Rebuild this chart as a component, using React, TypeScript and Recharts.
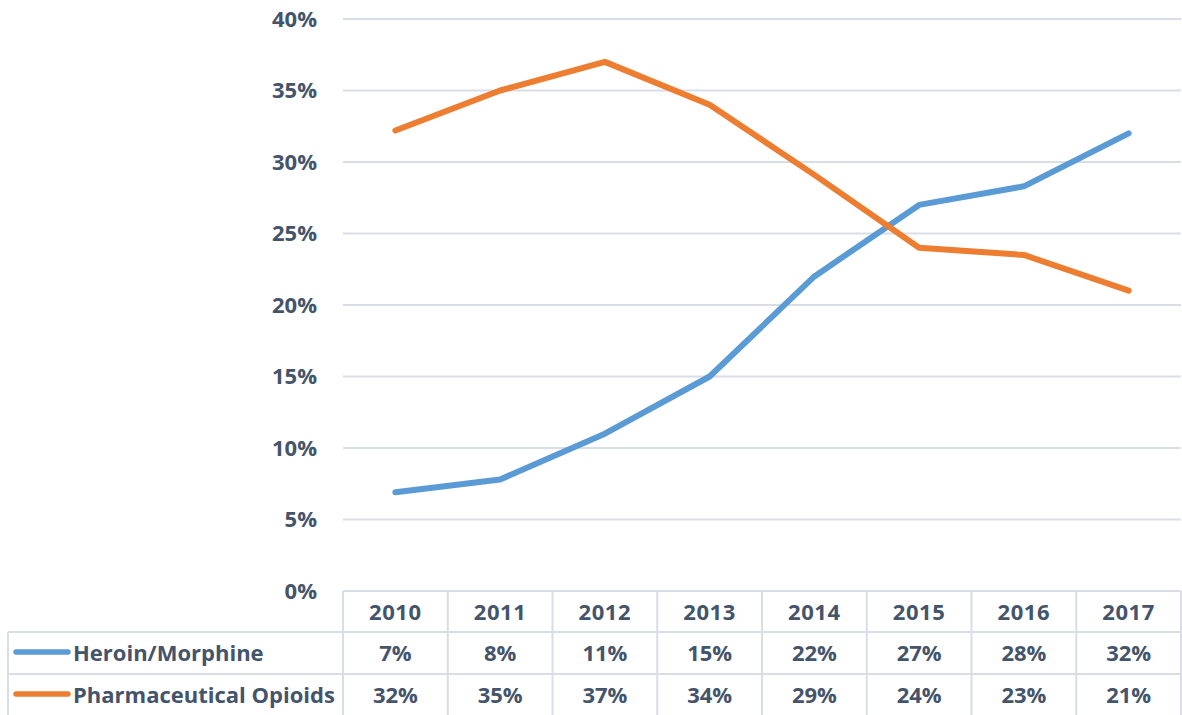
import React from 'react';
import { LineChart, Line, XAxis, YAxis, CartesianGrid } from 'recharts';

const years = ['2010', '2011', '2012', '2013', '2014', '2015', '2016', '2017'];
const heroin = [6.9, 7.8, 11.0, 15.0, 22.0, 27.0, 28.3, 32.0];
const pharma = [32.2, 35.0, 37.0, 34.0, 29.1, 24.0, 23.5, 21.0];
const heroinLabels = ['7%', '8%', '11%', '15%', '22%', '27%', '28%', '32%'];
const pharmaLabels = ['32%', '35%', '37%', '34%', '29%', '24%', '23%', '21%'];
const seriesNames = ['Heroin/Morphine', 'Pharmaceutical Opioids'];
const yTicks = [0, 5, 10, 15, 20, 25, 30, 35, 40];

const data = years.map((y, i) => ({ year: y, heroin: heroin[i], pharma: pharma[i] }));

const W = 1182;
const H = 715;
const PLOT_LEFT = 343;
const PLOT_RIGHT = 1181;
const COL_W = (PLOT_RIGHT - PLOT_LEFT) / years.length;
const BLUE = '#5B9BD5';
const ORANGE = '#ED7D31';
const TEXT = '#44546A';
const GRID = '#D9DEE6';
const FONT = '"Open Sans", sans-serif';
const FS = 22;

function TableTick(props: any) {
  const { x, y, payload, index } = props;
  const top = y;
  const half = COL_W / 2;
  const r1 = top + 20;
  const r2 = top + 61;
  const r3 = top + 103;
  const textProps = {
    fill: TEXT,
    fontFamily: FONT,
    fontWeight: 700,
    fontSize: FS,
    dominantBaseline: 'central' as const,
  };
  return (
    <g>
      <line x1={x - half} x2={x - half} y1={top} y2={H} stroke={GRID} strokeWidth={2} />
      {index === years.length - 1 && (
        <line x1={x + half} x2={x + half} y1={top} y2={H} stroke={GRID} strokeWidth={2} />
      )}
      <text x={x} y={r1} textAnchor="middle" letterSpacing={0.6} {...textProps}>{payload.value}</text>
      <text x={x} y={r2} textAnchor="middle" {...textProps}>{heroinLabels[index]}</text>
      <text x={x} y={r3} textAnchor="middle" {...textProps}>{pharmaLabels[index]}</text>
      {index === 0 && (
        <g>
          <line x1={PLOT_LEFT} x2={PLOT_RIGHT} y1={top} y2={top} stroke={GRID} strokeWidth={2} />
          <line x1={8} x2={PLOT_RIGHT} y1={top + 41} y2={top + 41} stroke={GRID} strokeWidth={2} />
          <line x1={8} x2={PLOT_RIGHT} y1={top + 83} y2={top + 83} stroke={GRID} strokeWidth={2} />
          <line x1={8} x2={8} y1={top + 41} y2={H} stroke={GRID} strokeWidth={2} />
          <line x1={16} x2={68} y1={r2} y2={r2} stroke={BLUE} strokeWidth={5.5} strokeLinecap="round" />
          <line x1={16} x2={68} y1={r3} y2={r3} stroke={ORANGE} strokeWidth={5.5} strokeLinecap="round" />
          <text x={73} y={r2} textAnchor="start" {...textProps}>{seriesNames[0]}</text>
          <text x={73} y={r3} textAnchor="start" {...textProps}>{seriesNames[1]}</text>
        </g>
      )}
    </g>
  );
}

export default function App() {
  return (
    <div style={{ position: 'absolute', left: 0, top: 0, width: W, height: H, background: '#fff' }}>
      <LineChart
        width={W}
        height={H}
        data={data}
        margin={{ top: 19, right: W - PLOT_RIGHT, left: 0, bottom: 0 }}
      >
        <CartesianGrid vertical={false} stroke={GRID} strokeWidth={2} />
        <XAxis
          dataKey="year"
          height={H - 591}
          axisLine={false}
          tickLine={false}
          tickSize={0}
          tickMargin={0}
          interval={0}
          padding={{ left: COL_W / 2, right: COL_W / 2 }}
          tick={<TableTick />}
        />
        <YAxis
          width={PLOT_LEFT}
          domain={[0, 40]}
          ticks={yTicks}
          interval={0}
          axisLine={false}
          tickLine={false}
          tickSize={0}
          tickMargin={26}
          tickFormatter={(v: number) => `${v}%`}
          tick={{ fill: TEXT, fontFamily: FONT, fontWeight: 700, fontSize: FS }}
        />
        <Line
          type="linear"
          dataKey="heroin"
          stroke={BLUE}
          strokeWidth={6}
          strokeLinecap="round"
          strokeLinejoin="round"
          dot={false}
          isAnimationActive={false}
        />
        <Line
          type="linear"
          dataKey="pharma"
          stroke={ORANGE}
          strokeWidth={6}
          strokeLinecap="round"
          strokeLinejoin="round"
          dot={false}
          isAnimationActive={false}
        />
      </LineChart>
    </div>
  );
}
